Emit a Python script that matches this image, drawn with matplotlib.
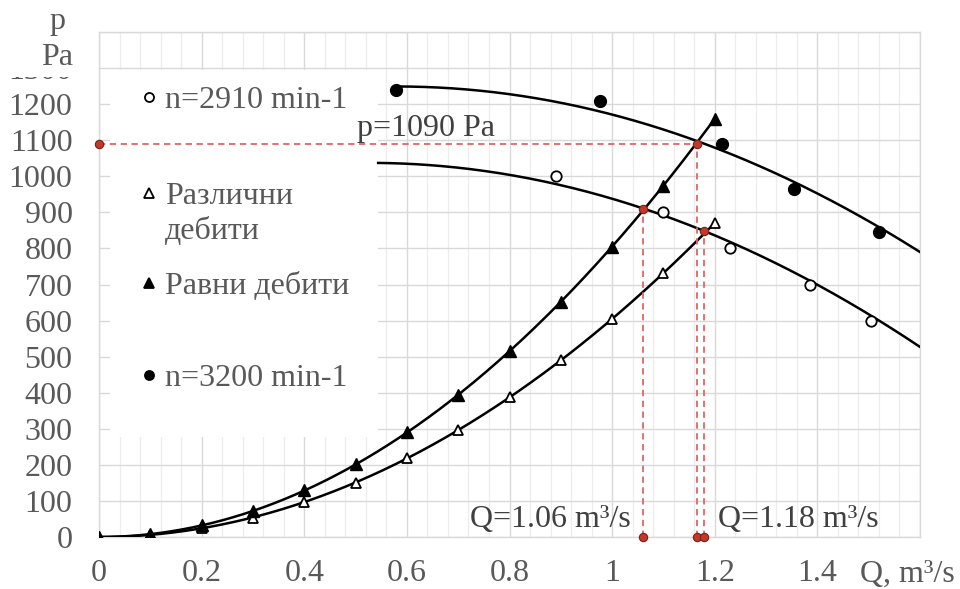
import numpy as np
import matplotlib
matplotlib.use("Agg")
import matplotlib.pyplot as plt
from matplotlib.patches import Rectangle
from matplotlib.ticker import MultipleLocator, FixedLocator, FuncFormatter

plt.rcParams['font.family'] = ['Liberation Serif', 'DejaVu Serif']

# Duct resistance points (different / equal flow distribution)
q_duct = [0, 0.1, 0.2, 0.3, 0.4, 0.5, 0.6, 0.7, 0.8, 0.9, 1.0, 1.1, 1.2]
p_razlichni = [0, 6, 24, 54, 97, 151, 218, 296, 387, 490, 605, 732, 870]
p_ravni = [0, 8, 32, 72, 129, 201, 290, 394, 515, 652, 805, 974, 1160]

# Fan test points at two speeds
q_2910 = [0.89, 1.10, 1.23, 1.385, 1.505]
p_2910 = [1000, 900, 800, 700, 600]
q_3200 = [0.579, 0.977, 1.214, 1.355, 1.52]
p_3200 = [1240, 1210, 1090, 965, 845]

# Fan characteristic trend lines: quadratic coefficients (highest power first) and Q span
fan_2910_coef = [-442.3, 465.3, 914.8]
fan_2910_span = [0.544, 1.6]
fan_3200_coef = [-441.0, 511.4, 1100.7]
fan_3200_span = [0.579, 1.6]

# Operating points (fan curve x duct curve)
op_q = [1.06, 1.165, 1.18]
op_p = [910, 1090, 848]

x_ticks = [0, 0.2, 0.4, 0.6, 0.8, 1.0, 1.2, 1.4, 1.6]
y_ticks = list(range(0, 1401, 100))

legend_labels = ["n=2910 min-1", "Различни\nдебити", "Равни дебити", "n=3200 min-1"]

TXT = '#595959'
ANN = '#404040'
RED_LINE = '#e06666'
RED_DOT = '#c0392b'
FS = 23

fig = plt.figure(figsize=(9.6, 5.89), dpi=100)
ax = fig.add_axes([99 / 960, 1 - 537 / 589, 821 / 960, 505 / 589])
ax.set_xlim(0, 1.6)
ax.set_ylim(0, 1400)

# grid
ax.xaxis.set_major_locator(FixedLocator(x_ticks))
ax.xaxis.set_minor_locator(MultipleLocator(0.04))
ax.yaxis.set_major_locator(FixedLocator(y_ticks))
ax.set_axisbelow(True)
ax.grid(which='major', color='#d9d9d9', lw=1.0)
ax.grid(which='minor', axis='x', color='#ededed', lw=0.9)
ax.tick_params(which='both', length=0)
ax.tick_params(axis='x', pad=16, labelsize=FS, labelcolor=TXT)
ax.tick_params(axis='y', pad=19, labelsize=FS, labelcolor=TXT)
ax.xaxis.set_major_formatter(FuncFormatter(lambda v, _: '' if v > 1.5 else f'{v:g}'))
ax.yaxis.set_major_formatter(FuncFormatter(lambda v, _: '' if v > 1350 else f'{v:g}'))
for s in ax.spines.values():
    s.set_color('#d9d9d9')
    s.set_linewidth(1.0)

# white legend panel
ax.add_patch(Rectangle((0.0134, 0.198), 0.327, 0.727, transform=ax.transAxes,
                       facecolor='white', edgecolor='none', zorder=1))

# duct curves through the measured points
qq = np.linspace(0, max(q_duct), 300)
for pts in (p_razlichni, p_ravni):
    coef = np.polyfit(q_duct, pts, 2)
    ax.plot(qq, np.polyval(coef, qq), color='black', lw=1.8, zorder=3)

# fan trend lines
for coef, span in ((fan_2910_coef, fan_2910_span), (fan_3200_coef, fan_3200_span)):
    q = np.linspace(span[0], span[1], 300)
    ax.plot(q, np.polyval(coef, q), color='black', lw=1.8, zorder=3)

# markers
ax.plot(q_duct, p_razlichni, ls='none', marker='^', ms=7.5, mfc='white', mec='black', mew=1.3, zorder=4)
ax.plot(q_duct, p_ravni, ls='none', marker='^', ms=8, mfc='black', mec='black', zorder=4)
ax.plot(q_2910, p_2910, ls='none', marker='o', ms=7.5, mfc='white', mec='black', mew=1.3, zorder=4)
ax.plot(q_3200, p_3200, ls='none', marker='o', ms=8.5, mfc='black', mec='black', zorder=4)

# operating point guides
dash = dict(color=RED_LINE, lw=1.3, dashes=(3.5, 2.5), zorder=5)
p_hi = op_p[1]
ax.plot([0, op_q[1]], [p_hi, p_hi], **dash)
for q, p in zip(op_q, op_p):
    ax.plot([q, q], [0, p], **dash)
dot = dict(ls='none', marker='o', ms=6, mfc=RED_DOT, mec='#7b1f17', mew=0.8, zorder=6, clip_on=False)
ax.plot(op_q, op_p, **dot)
ax.plot(op_q, [0] * len(op_q), **dot)
ax.plot([0], [p_hi], **dot)

# annotations
ax.text(0.503, 1112, f"p={p_hi} Pa", fontsize=FS, color=ANN, va='baseline', ha='left', zorder=7)
ax.annotate(f"Q={op_q[0]:.2f} m³/s", xy=(op_q[0], 0), xytext=(-9, 7), textcoords='offset points',
            fontsize=FS, color=ANN, ha='right', va='baseline', zorder=7)
ax.annotate(f"Q={op_q[2]:.2f} m³/s", xy=(op_q[2], 0), xytext=(10, 7), textcoords='offset points',
            fontsize=FS, color=ANN, ha='left', va='baseline', zorder=7)

# legend entries
leg_marker = [('o', 'white'), ('^', 'white'), ('^', 'black'), ('o', 'black')]
leg_y = [0.871, 0.681, 0.503, 0.321]
for (m, fc), y, lab in zip(leg_marker, leg_y, legend_labels):
    ax.plot([0.061], [y], transform=ax.transAxes, ls='none', marker=m, ms=6.5,
            mfc=fc, mec='black', mew=1.3, zorder=7)
    for i, line in enumerate(lab.split('\n')):
        ax.text(0.080, y - i * 0.069, line, transform=ax.transAxes, fontsize=FS,
                color=TXT, va='center_baseline', ha='left', zorder=7)

# axis titles
fig.patches.append(Rectangle((0, 1 - 77 / 589), 95 / 960, 77 / 589, transform=fig.transFigure,
                             facecolor='white', edgecolor='none', zorder=2))
fig.text(57 / 960, 1 - 29 / 589, "p", fontsize=FS, color=TXT, ha='center', va='baseline', zorder=3)
fig.text(57 / 960, 1 - 65 / 589, "Pa", fontsize=FS, color=TXT, ha='center', va='baseline', zorder=3)
fig.text(955 / 960, 1 - 582 / 589, "Q, m³/s", fontsize=FS, color=TXT, ha='right',
         va='baseline', zorder=3)

fig.savefig("out.png", dpi=100)
